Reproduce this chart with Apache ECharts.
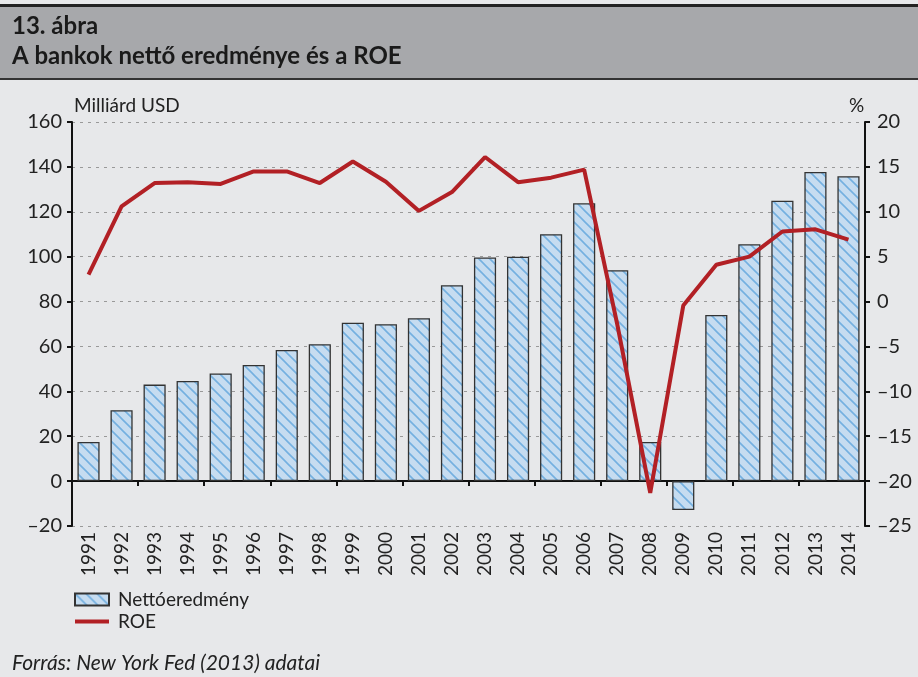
<!DOCTYPE html>
<html>
<head>
<meta charset="utf-8">
<script src="https://cdn.jsdelivr.net/npm/echarts@6/dist/echarts.min.js"></script>
<style>
html,body{margin:0;padding:0;background:#e7e8ea;}
#c{width:918px;height:677px;}
</style>
</head>
<body>
<div id="c"></div>
<script>
var years = ['1991','1992','1993','1994','1995','1996','1997','1998','1999','2000','2001','2002','2003','2004','2005','2006','2007','2008','2009','2010','2011','2012','2013','2014'];
var netIncome = [17.4, 31.6, 43, 44.6, 48, 51.7, 58.4, 61, 70.6, 69.9, 72.6, 87.3, 99.6, 100, 110, 123.8, 94, 17.4, -12.9, 74, 105.5, 124.9, 137.7, 135.8];
var roe = [3.0, 10.6, 13.2, 13.3, 13.1, 14.5, 14.5, 13.2, 15.6, 13.35, 10.1, 12.2, 16.1, 13.3, 13.8, 14.7, -2.5, -21.3, -0.45, 4.1, 5.0, 7.8, 8.05, 6.9];
var leftTicks = {min: -20, max: 160, interval: 20};
var rightTicks = {min: -25, max: 20, interval: 5};

var FONT = 'Lato, "Open Sans", sans-serif';

// hatch pattern
var pc = document.createElement('canvas');
pc.width = 11; pc.height = 11;
var g = pc.getContext('2d');
g.fillStyle = '#c6dcf0';
g.fillRect(0,0,11,11);
g.strokeStyle = '#74b0e0';
g.lineWidth = 1.6;
g.beginPath();
g.moveTo(-2,-2); g.lineTo(13,13);
g.moveTo(-13,-2); g.lineTo(2,13);
g.moveTo(9,-2); g.lineTo(24,13);
g.stroke();

function minus(v){ return String(v).replace('-', '\u2013'); }

var chart = echarts.init(document.getElementById('c'), null, {renderer:'canvas'});
chart.setOption({
  backgroundColor: '#e7e8ea',
  animation: false,
  graphic: [
    {type:'rect', shape:{x:0,y:7,width:918,height:72}, style:{fill:'#a7a8ab'}, z:0},
    {type:'rect', shape:{x:0,y:4,width:918,height:3}, style:{fill:'#222'}, z:1},
    {type:'rect', shape:{x:0,y:78,width:918,height:2}, style:{fill:'#333'}, z:1},
    {type:'text', left:12, top:14, style:{text:'13. ábra', font:'bold 24px ' + FONT, fill:'#1a1a1a'}},
    {type:'text', left:12, top:44, style:{text:'A bankok nettő eredménye és a ROE', font:'bold 24px ' + FONT, fill:'#1a1a1a'}},
    {type:'text', left:74, top:96, style:{text:'Milliárd USD', font:'19px ' + FONT, fill:'#222'}},
    {type:'text', left:849, top:96, style:{text:'%', font:'19px ' + FONT, fill:'#222'}},
    {type:'text', left:12, top:653, style:{text:'Forrás: New York Fed (2013) adatai', font:'italic 21px ' + FONT, fill:'#222'}}
  ],
  grid: {left:72, right:53, top:122, bottom:151, containLabel:false},
  legend: {
    orient:'vertical', left:74, top:590, padding:0, itemWidth:34, itemHeight:12, itemGap:3,
    textStyle:{fontFamily:FONT, fontSize:19, color:'#222', padding:[0,0,0,4]},
    data:[{name:'Nettóeredmény', icon:'rect'}, {name:'ROE', icon:'path://M0,0h34v4h-34z'}]
  },
  xAxis: [
    {type:'category', data:years, position:'bottom',
     axisLine:{onZero:true, lineStyle:{color:'#111', width:2}},
     axisTick:{show:true, length:5, lineStyle:{color:'#111', width:2}},
     axisLabel:{show:false}, splitLine:{show:false}},
    {type:'category', data:years, position:'bottom', gridIndex:0,
     axisLine:{show:false}, axisTick:{show:false},
     axisLabel:{rotate:90, margin:6, fontFamily:FONT, fontSize:19, color:'#222'}}
  ],
  yAxis: [
    {type:'value', min:leftTicks.min, max:leftTicks.max, interval:leftTicks.interval, position:'left',
     axisLine:{show:true, lineStyle:{color:'#111', width:2}},
     axisTick:{show:true, length:5, lineStyle:{color:'#111', width:2}},
     axisLabel:{formatter:minus, margin:10, fontFamily:FONT, fontSize:20, color:'#222'},
     splitLine:{show:true, lineStyle:{color:'#999', type:[3,5], width:1}}},
    {type:'value', min:rightTicks.min, max:rightTicks.max, interval:rightTicks.interval, position:'right',
     axisLine:{show:true, lineStyle:{color:'#111', width:2}},
     axisTick:{show:true, length:5, lineStyle:{color:'#111', width:2}},
     axisLabel:{formatter:minus, margin:12, fontFamily:FONT, fontSize:20, color:'#222'},
     splitLine:{show:false}}
  ],
  series: [
    {name:'Nettóeredmény', type:'bar', xAxisIndex:0, yAxisIndex:0, data:netIncome,
     barCategoryGap:'33%',
     itemStyle:{color:{image:pc, repeat:'repeat'}, borderColor:'#333', borderWidth:1.3}},
    {name:'ROE', type:'line', xAxisIndex:0, yAxisIndex:1, data:roe,
     symbol:'none', lineStyle:{color:'#b22025', width:4}, itemStyle:{color:'#b22025'}, z:5}
  ]
});
</script>
</body>
</html>
